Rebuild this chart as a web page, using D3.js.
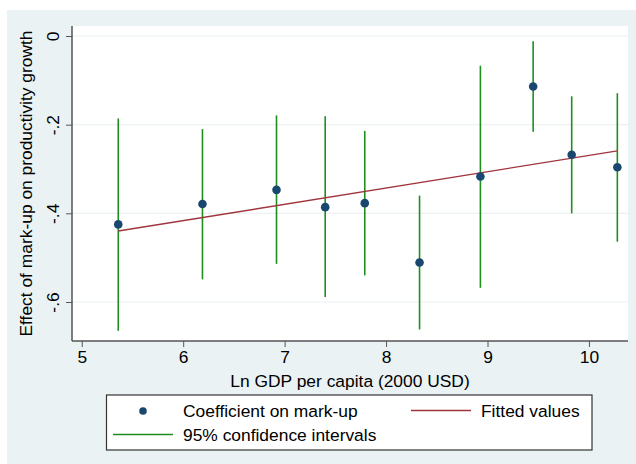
<!DOCTYPE html>
<html><head><meta charset="utf-8">
<script src="https://cdn.jsdelivr.net/npm/d3@7"></script>
<style>body{margin:0;background:#fff}svg{display:block;font-family:"Liberation Sans",Arial,Helvetica,sans-serif}</style>
</head><body>
<svg id="c" width="636" height="464"></svg>
<script>
const gdp = [5.36, 6.19, 6.92, 7.40, 7.79, 8.33, 8.93, 9.45, 9.83, 10.28];
const coef = [-0.425, -0.379, -0.347, -0.386, -0.377, -0.511, -0.317, -0.114, -0.268, -0.296];
const ciHigh = [-0.186, -0.210, -0.179, -0.181, -0.214, -0.360, -0.067, -0.012, -0.136, -0.129];
const ciLow = [-0.665, -0.549, -0.514, -0.589, -0.540, -0.662, -0.568, -0.216, -0.400, -0.464];
const fitX = [5.36, 10.28];
const fitY = [-0.440, -0.259];
const xTicks = [5, 6, 7, 8, 9, 10];
const yTicks = [0, -0.2, -0.4, -0.6];
const yTickLabels = ["0", "-.2", "-.4", "-.6"];
const legendLabels = ["Coefficient on mark-up", "Fitted values", "95% confidence intervals"];

const svg = d3.select("#c");
const L = 72, R = 628, T = 26, B = 341;
const FS = 17.4;
const x = d3.scaleLinear().domain([4.904, 10.385]).range([L, R]);
const y = d3.scaleLinear().domain([0.0226, -0.688]).range([T, B]);
const navy = "#1a476f", green = "#1e8f1e", red = "#a0353d";

svg.append("rect").attr("x", 7).attr("y", 10).attr("width", 629).attr("height", 454).attr("fill", "#eaf2f3");
svg.append("rect").attr("x", L).attr("y", T).attr("width", R - L).attr("height", B - T).attr("fill", "#fff");

// grid
svg.append("g").selectAll("line").data(yTicks).join("line")
  .attr("x1", L).attr("x2", R).attr("y1", d => y(d)).attr("y2", d => y(d))
  .attr("stroke", "#eaf2f3").attr("stroke-width", 1.2);

// axes
const yAxis = d3.axisLeft(y).tickValues(yTicks).tickFormat((d, i) => yTickLabels[i]).tickSize(6).tickPadding(4);
const gy = svg.append("g").attr("transform", `translate(${L},0)`).call(yAxis);
gy.select(".domain").attr("stroke", "#555").attr("d", `M0,${T}V${B}`);
gy.selectAll(".tick line").attr("stroke", "#555");
gy.selectAll(".tick text").attr("font-size", FS).attr("fill", "#000")
  .attr("text-anchor", "middle").attr("x", 0).attr("y", 0).attr("dy", "0em")
  .attr("transform", "translate(-13,0) rotate(-90)");

const xAxis = d3.axisBottom(x).tickValues(xTicks).tickFormat(d3.format("d")).tickSize(6).tickPadding(4);
const gx = svg.append("g").attr("transform", `translate(0,${B})`).call(xAxis);
gx.select(".domain").attr("stroke", "#555").attr("d", `M${L},0H${R}`);
gx.selectAll(".tick line").attr("stroke", "#555");
gx.selectAll(".tick text").attr("font-size", FS).attr("fill", "#000").attr("y", 10);
svg.selectAll(".domain").attr("stroke-width", 1.5);

// CI lines
svg.append("g").selectAll("line").data(gdp).join("line")
  .attr("x1", d => x(d)).attr("x2", d => x(d))
  .attr("y1", (d, i) => y(ciHigh[i])).attr("y2", (d, i) => y(ciLow[i]))
  .attr("stroke", green).attr("stroke-width", 1.6);

// fitted line
svg.append("line").attr("x1", x(fitX[0])).attr("x2", x(fitX[1]))
  .attr("y1", y(fitY[0])).attr("y2", y(fitY[1]))
  .attr("stroke", red).attr("stroke-width", 1.4);

// points
svg.append("g").selectAll("circle").data(gdp).join("circle")
  .attr("cx", d => x(d)).attr("cy", (d, i) => y(coef[i])).attr("r", 4.3).attr("fill", navy);

// axis titles
svg.append("text").attr("x", (L + R) / 2).attr("y", 387).attr("text-anchor", "middle")
  .attr("font-size", FS).text("Ln GDP per capita (2000 USD)");
svg.append("text").attr("transform", `translate(32,${(T + B) / 2}) rotate(-90)`).attr("text-anchor", "middle")
  .attr("font-size", FS).text("Effect of mark-up on productivity growth");

// legend
const lg = svg.append("g");
lg.append("rect").attr("x", 106.5).attr("y", 395).attr("width", 485.5).attr("height", 55)
  .attr("fill", "#fff").attr("stroke", "#333").attr("stroke-width", 1.2);
lg.append("circle").attr("cx", 143).attr("cy", 411).attr("r", 3.8).attr("fill", navy);
lg.append("text").attr("x", 183).attr("y", 417).attr("font-size", FS).text(legendLabels[0]);
lg.append("line").attr("x1", 411).attr("x2", 471).attr("y1", 410.5).attr("y2", 410.5).attr("stroke", red).attr("stroke-width", 1.4);
lg.append("text").attr("x", 481).attr("y", 417).attr("font-size", FS).text(legendLabels[1]);
lg.append("line").attr("x1", 113).attr("x2", 173).attr("y1", 434.5).attr("y2", 434.5).attr("stroke", green).attr("stroke-width", 1.4);
lg.append("text").attr("x", 183).attr("y", 441).attr("font-size", FS).text(legendLabels[2]);
</script>
</body></html>
